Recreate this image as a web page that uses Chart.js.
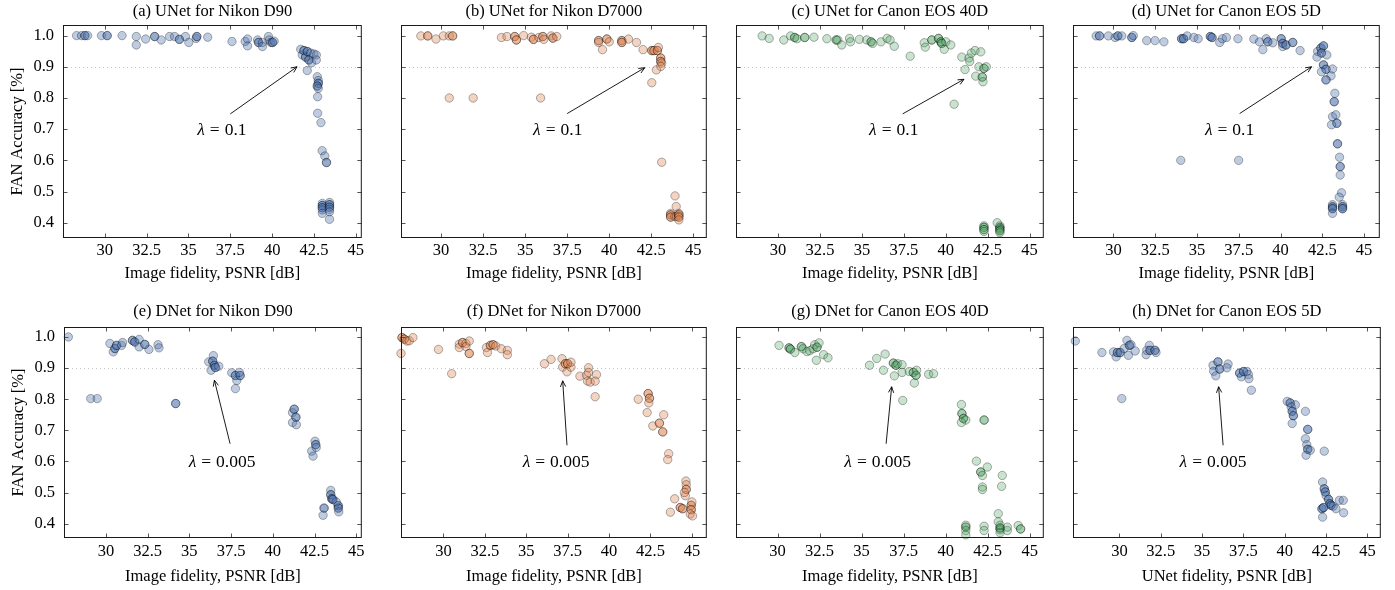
<!DOCTYPE html>
<html>
<head>
<meta charset="utf-8">
<script src="https://cdn.jsdelivr.net/npm/chart.js@4.4.1/dist/chart.umd.min.js"></script>
<style>
  body { margin: 0; background: #fff; width: 1395px; height: 590px; position: relative; overflow: hidden; }
  canvas { position: absolute; }
</style>
</head>
<body>
<script>
// ---- data ----
const xTicks = [30, 32.5, 35, 37.5, 40, 42.5, 45];
const yTicks = [0.4, 0.5, 0.6, 0.7, 0.8, 0.9, 1.0];
const refLine = 0.9;

const titles = [
  '(a) UNet for Nikon D90', '(b) UNet for Nikon D7000', '(c) UNet for Canon EOS 40D', '(d) UNet for Canon EOS 5D',
  '(e) DNet for Nikon D90', '(f) DNet for Nikon D7000', '(g) DNet for Canon EOS 40D', '(h) DNet for Canon EOS 5D'
];
const xLabels = [
  'Image fidelity, PSNR [dB]', 'Image fidelity, PSNR [dB]', 'Image fidelity, PSNR [dB]', 'Image fidelity, PSNR [dB]',
  'Image fidelity, PSNR [dB]', 'Image fidelity, PSNR [dB]', 'Image fidelity, PSNR [dB]', 'UNet fidelity, PSNR [dB]'
];
const yLabel = 'FAN Accuracy [%]';

// [PSNR, accuracy]
const unetD90 = [
  [28.31,1.0],[28.61,1.0],[28.81,1.0],[28.81,1.0],[28.97,1.0],[29.8,1.0],[30.14,1.0],[30.14,1.0],[31.03,1.0],
  [31.88,0.997],[31.88,0.970],[32.44,0.989],[32.98,0.997],[32.98,0.997],[33.37,0.986],[33.87,0.997],[34.17,0.997],
  [34.46,0.988],[34.46,0.988],[34.82,0.997],[35.02,0.978],[35.46,0.991],[35.5,0.997],[35.5,0.997],[36.15,0.995],
  [37.6,0.981],[38.39,0.981],[38.53,0.989],[38.53,0.967],[39.13,0.986],[39.19,0.978],[39.19,0.978],[39.42,0.978],
  [39.42,0.965],[39.78,0.997],[39.82,0.986],[39.92,0.978],[40.02,0.978],[40.02,0.978],[40.12,0.982],
  [41.71,0.956],[41.80,0.938],[41.90,0.952],[41.90,0.952],[42.0,0.931],[42.0,0.931],[42.10,0.949],[42.10,0.949],
  [42.2,0.922],[42.2,0.922],[42.30,0.944],[42.36,0.913],[42.5,0.941],[42.64,0.938],[42.64,0.922],[42.10,0.888],
  [42.70,0.868],[42.76,0.856],[42.76,0.847],[42.76,0.847],[42.70,0.838],[42.70,0.838],[42.76,0.831],[42.72,0.804],
  [42.72,0.751],[42.92,0.721],[42.99,0.631],[43.15,0.614],[43.25,0.593],[43.25,0.593],
  [43.0,0.462],[43.0,0.455],[43.0,0.455],[43.0,0.448],[43.0,0.448],[43.0,0.441],[43.0,0.43],
  [43.43,0.465],[43.43,0.458],[43.43,0.458],[43.43,0.45],[43.43,0.45],[43.43,0.443],[43.43,0.435],[43.43,0.411]
];
const unetD7000 = [
  [28.80,0.999],[29.21,0.999],[29.21,0.999],[29.70,0.989],[30.14,0.999],[30.49,0.999],[30.69,0.999],[30.69,0.999],
  [30.49,0.8],[31.91,0.8],[35.92,0.8],
  [33.59,0.994],[33.92,0.997],[34.38,0.997],[34.38,0.997],[34.48,0.986],[34.48,0.986],[34.91,1.0],[35.37,0.995],
  [35.50,0.988],[35.50,0.988],[35.82,0.994],[36.05,0.997],[36.05,0.997],[36.11,0.988],[36.55,0.999],[36.65,0.992],
  [36.65,0.992],[36.88,0.997],
  [39.37,0.984],[39.37,0.984],[39.37,0.978],[39.60,0.955],[39.86,0.989],[39.86,0.989],[40.0,0.98],[40.75,0.984],
  [40.75,0.984],[40.75,0.978],[40.75,0.978],[41.14,0.989],[41.62,0.978],[42.01,0.955],[42.53,0.952],[42.53,0.952],
  [42.66,0.952],[42.66,0.952],[42.86,0.952],[42.86,0.952],[42.92,0.962],[43.06,0.928],[43.06,0.928],[43.06,0.917],
  [43.06,0.917],[43.12,0.912],[43.06,0.901],[42.80,0.89],[42.53,0.849],[43.12,0.594],[43.91,0.486],[43.98,0.452],
  [43.65,0.43],[43.65,0.425],[43.65,0.425],[43.65,0.418],[43.65,0.418],[43.9,0.42],[44.0,0.42],
  [44.14,0.43],[44.14,0.425],[44.14,0.425],[44.14,0.418],[44.14,0.418],[44.14,0.409]
];
const unet40D = [
  [29.05,0.999],[29.47,0.991],[30.34,0.986],[30.75,0.999],[30.99,0.994],[30.99,0.994],[31.13,0.99],[31.59,0.994],
  [31.59,0.994],[32.14,0.995],[32.91,0.99],[33.47,0.986],[33.47,0.986],[33.56,0.986],[33.80,0.97],[34.26,0.991],
  [34.32,0.98],[34.85,0.988],[35.29,0.986],[35.55,0.98],[35.55,0.98],[35.64,0.975],[36.14,0.98],[36.5,0.991],
  [36.68,0.986],[36.93,0.966],[37.88,0.934],[38.72,0.977],[38.78,0.963],[39.17,0.986],[39.17,0.986],[39.57,0.991],
  [39.57,0.991],[39.71,0.98],[39.71,0.98],[39.76,0.975],[39.76,0.975],[39.91,0.956],[40.01,0.98],[40.30,0.97],
  [40.96,0.931],[41.15,0.891],[41.39,0.928],[41.43,0.917],[41.53,0.944],[41.75,0.952],[42.09,0.948],[41.79,0.87],
  [41.98,0.9],[42.18,0.867],[42.18,0.867],[42.22,0.852],[42.28,0.895],[42.28,0.895],[42.42,0.9],[40.5,0.78],
  [42.28,0.39],[42.28,0.385],[42.28,0.385],[42.28,0.378],[42.28,0.378],[42.28,0.372],
  [43.23,0.39],[43.23,0.385],[43.23,0.385],[43.23,0.38],[43.23,0.38],[43.23,0.374],[43.23,0.374],[43.23,0.368],
  [43.07,0.40]
];
const unet5D = [
  [28.97,0.999],[29.17,0.999],[29.17,0.999],[29.70,0.999],[30.1,0.994],[30.26,0.999],[30.26,0.999],[30.5,0.999],
  [31.1,0.994],[31.1,0.994],[31.19,1.0],[31.99,0.984],[32.49,0.984],[33.02,0.98],[34.03,0.6],[37.49,0.6],
  [34.08,0.99],[34.08,0.99],[34.2,0.99],[34.2,0.99],[34.41,0.999],[34.81,0.994],[35.07,0.99],[35.8,0.997],
  [35.8,0.997],[35.9,0.994],[35.9,0.994],[36.36,0.978],[36.52,0.99],[36.76,0.994],[37.45,0.99],[38.4,0.989],
  [38.74,0.98],[38.94,0.955],[39.14,0.99],[39.24,0.98],[39.24,0.98],[39.54,0.977],[40.04,0.99],[40.04,0.99],
  [40.13,0.975],[40.13,0.975],[40.13,0.965],[40.33,0.97],[40.33,0.97],[40.73,0.978],[40.73,0.978],[41.17,0.952],
  [42.22,0.949],[42.42,0.96],[42.42,0.96],[42.57,0.967],[42.57,0.967],[42.45,0.944],[42.45,0.944],[42.77,0.938],
  [42.18,0.931],[42.57,0.906],[42.57,0.906],[42.72,0.892],[42.72,0.892],[42.45,0.884],[43.11,0.893],[43.02,0.871],
  [42.72,0.858],[42.72,0.858],[43.25,0.815],[43.21,0.788],[43.21,0.788],[43.11,0.74],[43.31,0.746],[43.37,0.719],
  [43.37,0.719],[43.05,0.714],[43.41,0.653],[43.41,0.653],[43.53,0.61],[43.57,0.58],[43.57,0.58],[43.57,0.553],
  [43.65,0.496],[43.51,0.482],
  [43.11,0.458],[43.11,0.451],[43.11,0.451],[43.11,0.445],[43.11,0.445],[43.11,0.43],
  [43.71,0.458],[43.71,0.451],[43.71,0.451],[43.71,0.445],[43.71,0.445]
];
const dnetD90 = [
  [27.75,1.0],[29.09,0.802],[29.48,0.802],[30.24,0.979],[30.44,0.952],[30.54,0.963],[30.54,0.963],[30.64,0.973],
  [30.64,0.973],[30.94,0.973],[31.0,0.982],[31.59,0.989],[31.59,0.989],[31.73,0.984],[31.73,0.984],[31.99,0.992],
  [31.99,0.968],[32.33,0.976],[32.33,0.976],[32.58,0.96],[33.12,0.975],[33.18,0.965],[34.18,0.786],[34.18,0.786],
  [36.16,0.92],[36.3,0.893],[36.44,0.94],[36.40,0.922],[36.40,0.922],[36.5,0.909],[36.5,0.909],[36.56,0.902],
  [36.56,0.902],[36.76,0.906],[37.54,0.885],[37.76,0.876],[37.76,0.876],[37.84,0.86],[37.76,0.834],[38.04,0.876],
  [38.04,0.876],[38.0,0.886],[41.18,0.757],[41.28,0.768],[41.28,0.768],[41.38,0.742],[41.38,0.742],[41.18,0.725],
  [41.41,0.718],[42.33,0.633],[42.41,0.617],[42.53,0.665],[42.57,0.654],[42.57,0.654],[42.6,0.645],
  [43.07,0.45],[43.07,0.45],[43.01,0.427],[43.47,0.507],[43.47,0.493],[43.47,0.493],[43.53,0.48],[43.53,0.48],
  [43.6,0.478],[43.6,0.478],[43.92,0.458],[43.92,0.458],[43.92,0.45],[43.92,0.45],[43.95,0.438],[43.8,0.47]
];
const dnetD7000 = [
  [27.44,0.947],[27.50,0.998],[27.50,0.998],[27.64,0.993],[27.64,0.993],[27.80,0.987],[27.94,0.988],[28.16,0.998],
  [29.70,0.96],[30.50,0.882],[30.96,0.977],[30.96,0.966],[31.16,0.982],[31.16,0.982],[31.36,0.979],[31.36,0.969],
  [31.56,0.987],[31.56,0.947],[31.56,0.947],[32.60,0.966],[32.66,0.95],[32.84,0.973],[32.84,0.973],[33.0,0.975],
  [33.0,0.975],[33.16,0.971],[33.50,0.962],[33.86,0.957],[33.86,0.943],
  [36.10,0.914],[36.50,0.928],[37.16,0.93],[37.20,0.903],[37.36,0.914],[37.36,0.914],[37.50,0.914],[37.50,0.914],
  [37.46,0.888],[37.70,0.903],[37.70,0.919],[38.24,0.874],[38.64,0.877],[38.76,0.901],[38.76,0.886],[38.70,0.858],
  [38.86,0.855],[39.24,0.879],[39.16,0.858],[39.16,0.808],
  [41.76,0.8],[42.36,0.818],[42.36,0.818],[42.44,0.803],[42.44,0.803],[42.40,0.788],[42.30,0.757],[42.64,0.714],
  [43.04,0.723],[43.04,0.723],[43.24,0.695],[43.24,0.695],[43.30,0.75],[43.60,0.625],[43.54,0.606],
  [44.64,0.537],[44.66,0.525],[44.66,0.51],[44.66,0.51],[44.6,0.49],[43.96,0.48],[43.70,0.437],[44.30,0.452],
  [44.30,0.452],[44.44,0.448],[44.44,0.448],[44.96,0.459],[44.96,0.459],[44.96,0.445],[44.96,0.445],[44.90,0.431],
  [45.04,0.425],[44.55,0.5],[45.0,0.47]
];
const dnet40D = [
  [30.09,0.973],[30.69,0.965],[30.69,0.965],[30.77,0.961],[30.77,0.961],[31.03,0.95],[31.42,0.969],[31.42,0.969],
  [31.52,0.962],[31.75,0.953],[31.91,0.956],[32.11,0.962],[32.21,0.975],[32.35,0.967],[32.35,0.967],[32.47,0.981],
  [32.31,0.925],[32.74,0.943],[33.0,0.933],
  [35.47,0.909],[35.90,0.931],[36.30,0.893],[36.40,0.945],[36.89,0.916],[36.89,0.916],[37.05,0.909],[37.05,0.909],
  [37.15,0.914],[36.95,0.875],[37.41,0.911],[37.41,0.886],[37.45,0.796],[37.84,0.889],[38.08,0.886],[38.08,0.886],
  [38.24,0.877],[38.24,0.877],[38.27,0.893],[38.14,0.852],[38.99,0.88],[39.28,0.882],
  [40.94,0.783],[40.97,0.754],[40.97,0.754],[41.06,0.738],[41.06,0.738],[41.2,0.733],[40.94,0.725],[42.29,0.733],
  [42.29,0.733],[41.83,0.601],[42.09,0.566],[42.09,0.566],[42.19,0.555],[42.48,0.582],[42.19,0.518],[42.19,0.51],
  [43.37,0.555],[43.33,0.52],[43.13,0.432],[43.13,0.406],
  [41.2,0.389],[41.2,0.389],[41.2,0.395],[41.2,0.378],[41.2,0.364],[42.29,0.392],[42.29,0.378],
  [43.24,0.386],[43.24,0.386],[43.24,0.386],[43.24,0.38],[43.24,0.371],[43.24,0.395],[43.67,0.378],[43.67,0.389],
  [44.32,0.394],[44.46,0.383],[44.46,0.383]
];
const dnet5D = [
  [27.33,0.987],[28.94,0.95],[29.64,0.952],[29.80,0.936],[29.88,0.95],[29.88,0.95],[30.04,0.95],[30.04,0.95],
  [30.28,0.963],[30.45,0.989],[30.54,0.941],[30.60,0.973],[30.60,0.973],[30.70,0.975],[30.95,0.955],[31.61,0.943],
  [31.65,0.957],[31.81,0.973],[31.85,0.957],[31.85,0.957],[32.15,0.957],[32.15,0.957],[32.21,0.95],[30.14,0.802],
  [35.66,0.909],[35.70,0.89],[35.83,0.875],[35.96,0.92],[35.96,0.92],[36.07,0.897],[36.07,0.897],[36.57,0.913],
  [36.5,0.901],[37.27,0.884],[37.27,0.884],[37.37,0.872],[37.51,0.889],[37.51,0.889],[37.71,0.889],[37.80,0.879],
  [37.83,0.866],[37.98,0.829],
  [40.15,0.793],[40.33,0.788],[40.33,0.788],[40.64,0.782],[40.39,0.775],[40.45,0.761],[40.45,0.761],[40.52,0.747],
  [40.52,0.747],[40.45,0.722],[41.25,0.761],[41.39,0.703],[41.39,0.703],[41.25,0.673],[41.33,0.654],[41.39,0.639],
  [41.39,0.639],[41.54,0.636],[41.29,0.62],[42.39,0.633],
  [42.29,0.534],[42.39,0.512],[42.39,0.512],[42.45,0.502],[42.45,0.502],[42.5,0.49],[42.65,0.478],[42.65,0.478],
  [42.73,0.464],[42.73,0.464],[42.8,0.459],[42.8,0.459],[42.25,0.448],[42.25,0.448],[42.35,0.452],[42.35,0.452],
  [42.93,0.456],[43.1,0.448],[43.30,0.475],[43.54,0.475],[43.56,0.435],[42.29,0.421]
];

// arrow annotations: tail -> head, label centre (axis coordinates)
const notes = [
  { text: '0.1',   tail: [37.5, 0.749],  head: [41.49, 0.9],   label: [37.0, 0.697] },
  { text: '0.1',   tail: [37.5, 0.75],   head: [42.11, 0.897], label: [36.94, 0.697] },
  { text: '0.1',   tail: [37.43, 0.749], head: [41.09, 0.86],  label: [36.9, 0.697] },
  { text: '0.1',   tail: [37.55, 0.75],  head: [41.86, 0.9],   label: [36.95, 0.697] },
  { text: '0.005', tail: [37.44, 0.657], head: [36.5, 0.861],  label: [36.96, 0.598] },
  { text: '0.005', tail: [37.46, 0.652], head: [37.2, 0.859],  label: [36.8, 0.598] },
  { text: '0.005', tail: [36.46, 0.657], head: [36.79, 0.84],  label: [35.96, 0.598] },
  { text: '0.005', tail: [36.27, 0.652], head: [36.0, 0.84],   label: [35.66, 0.598] }
];

// ---- styling / layout ----
const FONT = 'Liberation Serif, Times New Roman, serif';
const FSIZE = 16.5;
const BLUE = { fill: 'rgba(76,114,176,0.36)', line: 'rgba(0,0,0,0.3)' };
const ORANGE = { fill: 'rgba(221,132,82,0.36)', line: 'rgba(0,0,0,0.3)' };
const GREEN = { fill: 'rgba(85,168,104,0.32)', line: 'rgba(0,0,0,0.3)' };

const panels = [
  { pts: unetD90,   col: BLUE,   box: [63, 25, 363, 238],   xr: [27.5, 45.36],  row: 0 },
  { pts: unetD7000, col: ORANGE, box: [401, 25, 708, 238],  xr: [27.62, 45.8],  row: 0 },
  { pts: unet40D,   col: GREEN,  box: [736, 25, 1045, 238], xr: [27.49, 45.85], row: 0 },
  { pts: unet5D,    col: BLUE,   box: [1073, 25, 1381, 238], xr: [27.58, 45.94], row: 0 },
  { pts: dnetD90,   col: BLUE,   box: [64, 327, 363, 538],  xr: [27.49, 45.33], row: 1 },
  { pts: dnetD7000, col: ORANGE, box: [401, 327, 708, 538], xr: [27.44, 45.9],  row: 1 },
  { pts: dnet40D,   col: GREEN,  box: [736, 327, 1045, 538], xr: [27.53, 45.84], row: 1 },
  { pts: dnet5D,    col: BLUE,   box: [1073, 327, 1382, 538], xr: [27.19, 45.81], row: 1 }
];
const rows = [
  { yr: [0.351, 1.034], top: 25, xH: 46, tickPad: 3, titleGap: 13 },
  { yr: [0.354, 1.032], top: 30, xH: 49, tickPad: 4, titleGap: 15 }
];

// frame, inner tick marks, dotted reference line, title, arrow note
const framePlugin = {
  id: 'frame',
  beforeDatasetsDraw(chart) {
    const { ctx, chartArea: a, scales: { y } } = chart;
    const py = Math.round(y.getPixelForValue(refLine)) + 0.5;
    ctx.save();
    ctx.strokeStyle = '#c4c4c4';
    ctx.lineWidth = 1;
    ctx.setLineDash([1, 3]);
    ctx.beginPath();
    ctx.moveTo(a.left, py);
    ctx.lineTo(a.right, py);
    ctx.stroke();
    ctx.restore();
  },
  afterDraw(chart, args, opts) {
    const { ctx, chartArea: a, scales: { x, y } } = chart;
    ctx.save();
    // inner ticks
    ctx.strokeStyle = '#555';
    ctx.lineWidth = 1;
    const tl = 4.5;
    ctx.beginPath();
    x.ticks.forEach(t => {
      const px = Math.round(x.getPixelForValue(t.value)) + 0.5;
      ctx.moveTo(px, a.bottom); ctx.lineTo(px, a.bottom - tl);
      ctx.moveTo(px, a.top); ctx.lineTo(px, a.top + tl);
    });
    y.ticks.forEach(t => {
      const py = Math.round(y.getPixelForValue(t.value)) + 0.5;
      ctx.moveTo(a.left, py); ctx.lineTo(a.left + tl, py);
      ctx.moveTo(a.right, py); ctx.lineTo(a.right - tl, py);
    });
    ctx.stroke();
    // frame
    ctx.strokeStyle = '#1a1a1a';
    ctx.strokeRect(a.left + 0.5, a.top + 0.5, a.right - a.left - 1, a.bottom - a.top - 1);

    // panel title
    ctx.fillStyle = '#000';
    ctx.font = `${FSIZE}px ${FONT}`;
    ctx.textAlign = 'center';
    ctx.textBaseline = 'middle';
    ctx.fillText(opts.title, (a.left + a.right) / 2, a.top - opts.gap);

    // arrow
    const n = opts.note;
    const tx = x.getPixelForValue(n.tail[0]), ty = y.getPixelForValue(n.tail[1]);
    const hx = x.getPixelForValue(n.head[0]), hy = y.getPixelForValue(n.head[1]);
    ctx.strokeStyle = '#000';
    ctx.lineWidth = 0.9;
    ctx.beginPath();
    ctx.moveTo(tx, ty); ctx.lineTo(hx, hy);
    const ang = Math.atan2(hy - ty, hx - tx), al = 6.5, aw = 0.42;
    ctx.moveTo(hx - al * Math.cos(ang - aw), hy - al * Math.sin(ang - aw));
    ctx.lineTo(hx, hy);
    ctx.lineTo(hx - al * Math.cos(ang + aw), hy - al * Math.sin(ang + aw));
    ctx.stroke();

    // label: italic lambda, "=" and the value with math-style spacing
    const lx = x.getPixelForValue(n.label[0]), ly = y.getPixelForValue(n.label[1]);
    const fItal = `italic ${FSIZE + 1}px ${FONT}`, fReg = `${FSIZE + 1}px ${FONT}`;
    const gap = 5;
    ctx.font = fItal; const w1 = ctx.measureText('λ').width;
    ctx.font = fReg;
    const w2 = ctx.measureText('=').width, w3 = ctx.measureText(n.text).width;
    let sx = lx - (w1 + w2 + w3 + 2 * gap) / 2;
    ctx.textAlign = 'left';
    ctx.font = fItal; ctx.fillText('λ', sx, ly);
    ctx.font = fReg;
    ctx.fillText('=', sx + w1 + gap, ly);
    ctx.fillText(n.text, sx + w1 + w2 + 2 * gap, ly);
    ctx.restore();
  }
};

panels.forEach((p, i) => {
  const r = rows[p.row];
  const first = i % 4 === 0;
  const yW = first ? 63 : 20;
  const padR = 4;
  const [L, T, R, B] = p.box;
  const cv = document.createElement('canvas');
  const w = (R - L) + yW + padR;
  const h = (B - T) + r.top + r.xH;
  cv.width = w; cv.height = h;
  cv.style.left = (L - yW) + 'px';
  cv.style.top = (T - r.top) + 'px';
  cv.style.width = w + 'px';
  cv.style.height = h + 'px';
  document.body.appendChild(cv);

  const font = { family: FONT, size: FSIZE, lineHeight: 1.2 };

  new Chart(cv, {
    type: 'scatter',
    data: {
      datasets: [{
        data: p.pts.map(([px, py]) => ({ x: px, y: py })),
        backgroundColor: p.col.fill,
        borderColor: p.col.line,
        borderWidth: 1,
        pointRadius: 4.2,
        pointHoverRadius: 4.2,
        clip: false
      }]
    },
    options: {
      responsive: false,
      animation: false,
      events: [],
      layout: { padding: { top: r.top, right: padR, left: 0, bottom: 0 } },
      plugins: {
        legend: { display: false },
        tooltip: { enabled: false },
        frame: { title: titles[i], note: notes[i], gap: r.titleGap }
      },
      scales: {
        x: {
          type: 'linear',
          min: p.xr[0], max: p.xr[1],
          afterBuildTicks: s => { s.ticks = xTicks.map(v => ({ value: v })); },
          afterFit: s => { s.height = r.xH; s.paddingLeft = 0; s.paddingRight = 0; },
          grid: { display: false, drawTicks: false },
          border: { display: false },
          ticks: {
            color: '#000', font, padding: r.tickPad, autoSkip: false,
            maxRotation: 0, minRotation: 0,
            callback: v => String(v)
          },
          title: { display: true, text: xLabels[i], color: '#000', font, padding: { top: 0, bottom: 0 } }
        },
        y: {
          type: 'linear',
          min: r.yr[0], max: r.yr[1],
          afterBuildTicks: s => { s.ticks = yTicks.map(v => ({ value: v })); },
          afterFit: s => { s.width = yW; s.paddingTop = 0; s.paddingBottom = 0; },
          grid: { display: false, drawTicks: false },
          border: { display: false },
          ticks: {
            display: first, color: '#000', font, padding: 9,
            callback: v => v.toFixed(1)
          },
          title: { display: first, text: yLabel, color: '#000', font, padding: { top: 8, bottom: 0 } }
        }
      }
    },
    plugins: [framePlugin]
  });
});
</script>
</body>
</html>
